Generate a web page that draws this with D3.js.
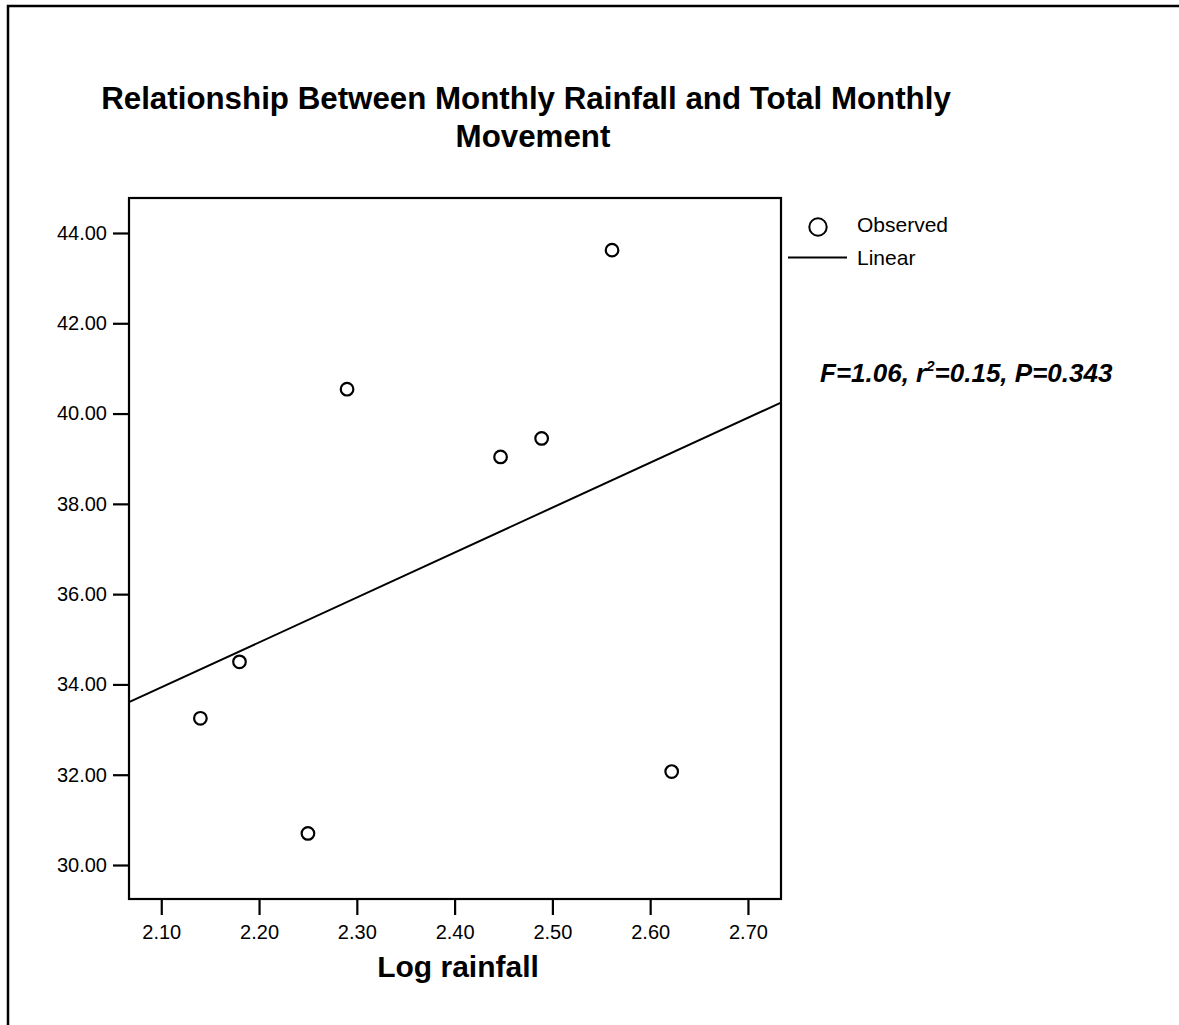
<!DOCTYPE html>
<html>
<head>
<meta charset="utf-8">
<script src="https://cdn.jsdelivr.net/npm/d3@7"></script>
<style>
  body { margin: 0; background: #fff; }
  svg { display: block; font-family: "Liberation Sans", Arial, sans-serif; }
</style>
</head>
<body>
<svg id="chart" width="1179" height="1025"></svg>
<script>
// observed points (log rainfall, total monthly movement)
var logRainfall = [2.140, 2.180, 2.250, 2.290, 2.447, 2.489, 2.561, 2.622];
var movement = [33.25, 34.50, 30.70, 40.54, 39.04, 39.45, 43.62, 32.07];
var xTicks = [2.10, 2.20, 2.30, 2.40, 2.50, 2.60, 2.70];
var yTicks = [30, 32, 34, 36, 38, 40, 42, 44];
var titleLines = ["Relationship Between Monthly Rainfall and Total Monthly", "Movement"];

var svg = d3.select("#chart");
var plot = {left: 129, top: 198, right: 781, bottom: 899};

var x = d3.scaleLinear().domain([2.067, 2.7338]).range([plot.left, plot.right]);
var y = d3.scaleLinear().domain([29.247, 44.775]).range([plot.bottom, plot.top]);

// outer frame (only top and left visible in the picture)
svg.append("rect")
    .attr("x", 8).attr("y", 6)
    .attr("width", 1300).attr("height", 1200)
    .attr("fill", "none").attr("stroke", "#000").attr("stroke-width", 2.5);

// title
svg.append("g").selectAll("text")
    .data(titleLines)
    .enter().append("text")
    .attr("x", function (d, i) { return i ? 533 : 526; })
    .attr("y", function (d, i) { return 109 + i * 38; })
    .attr("text-anchor", "middle")
    .attr("font-size", 31.3).attr("font-weight", "bold")
    .text(function (d) { return d; });

// plot box
svg.append("rect")
    .attr("x", plot.left).attr("y", plot.top)
    .attr("width", plot.right - plot.left).attr("height", plot.bottom - plot.top)
    .attr("fill", "none").attr("stroke", "#000").attr("stroke-width", 2.2);

var xAxis = svg.append("g")
    .attr("transform", "translate(0," + plot.bottom + ")")
    .call(d3.axisBottom(x).tickValues(xTicks).tickFormat(d3.format(".2f")).tickSize(16).tickPadding(10));
var yAxis = svg.append("g")
    .attr("transform", "translate(" + plot.left + ",0)")
    .call(d3.axisLeft(y).tickValues(yTicks).tickFormat(d3.format(".2f")).tickSize(16).tickPadding(6));

[xAxis, yAxis].forEach(function (a) {
  a.select(".domain").remove();
  a.selectAll("line").attr("stroke", "#000").attr("stroke-width", 2.2);
  a.selectAll("text").attr("fill", "#000").attr("font-size", 20)
      .attr("font-family", "'Liberation Sans', Arial, sans-serif");
});

svg.append("text")
    .attr("x", 458).attr("y", 977)
    .attr("text-anchor", "middle")
    .attr("font-size", 30).attr("font-weight", "bold")
    .text("Log rainfall");

// linear fit
var mx = d3.mean(logRainfall), my = d3.mean(movement);
var sxy = d3.sum(logRainfall, function (v, i) { return (v - mx) * (movement[i] - my); });
var sxx = d3.sum(logRainfall, function (v) { return (v - mx) * (v - mx); });
var slope = sxy / sxx, intercept = my - slope * mx;
var xd = x.domain();

svg.append("path")
    .datum(xd.map(function (v) { return [v, intercept + slope * v]; }))
    .attr("d", d3.line().x(function (d) { return x(d[0]); }).y(function (d) { return y(d[1]); }))
    .attr("fill", "none").attr("stroke", "#000").attr("stroke-width", 2);

svg.append("g").selectAll("circle")
    .data(logRainfall)
    .enter().append("circle")
    .attr("cx", function (d) { return x(d); })
    .attr("cy", function (d, i) { return y(movement[i]); })
    .attr("r", 6.3)
    .attr("fill", "none").attr("stroke", "#000").attr("stroke-width", 2.2);

// legend
var legend = svg.append("g");
legend.append("circle")
    .attr("cx", 818).attr("cy", 227).attr("r", 8.7)
    .attr("fill", "none").attr("stroke", "#000").attr("stroke-width", 2);
legend.append("line")
    .attr("x1", 788).attr("x2", 847).attr("y1", 257.5).attr("y2", 257.5)
    .attr("stroke", "#000").attr("stroke-width", 2);
legend.selectAll("text")
    .data(["Observed", "Linear"])
    .enter().append("text")
    .attr("x", 857)
    .attr("y", function (d, i) { return 232 + i * 33; })
    .attr("font-size", 21)
    .text(function (d) { return d; });

// statistics
var stats = svg.append("text")
    .attr("x", 820).attr("y", 382)
    .attr("font-size", 26).attr("font-weight", "bold").attr("font-style", "italic");
stats.append("tspan").text("F=1.06, r");
stats.append("tspan").attr("font-size", 15).attr("dy", -11).text("2");
stats.append("tspan").attr("dy", 11).text("=0.15, P=0.343");
</script>
</body>
</html>
